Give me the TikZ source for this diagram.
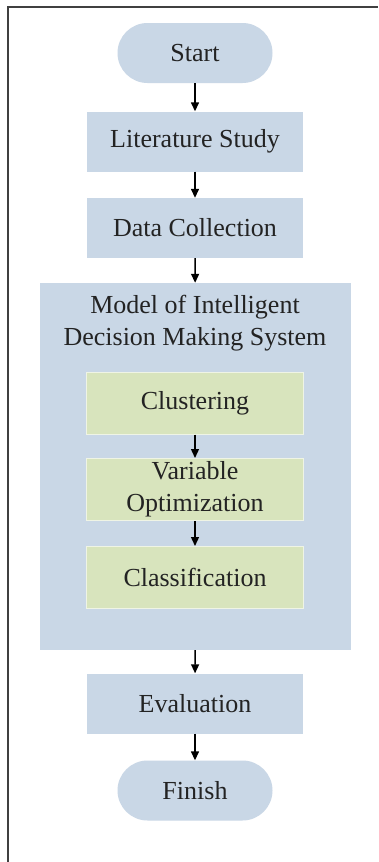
\documentclass[tikz,border=0pt]{standalone}
\usepackage{fontspec}
\setmainfont{Liberation Serif}
\usetikzlibrary{arrows.meta}
\definecolor{boxblue}{RGB}{201,215,230}
\definecolor{boxgreen}{RGB}{216,228,189}
\definecolor{txtgrey}{RGB}{35,35,35}

\begin{document}
\begin{tikzpicture}[x=1pt,y=-1pt,
        txt/.style={font=\fontsize{26}{32}\selectfont, text=txtgrey, align=center, inner sep=0pt},
        pill/.style={txt, fill=boxblue, rounded corners=30pt, minimum width=155pt, minimum height=60pt},
        bluebox/.style={txt, fill=boxblue, minimum width=216pt, minimum height=60pt},
        greenbox/.style={txt, fill=boxgreen, draw=white!60!boxgreen, line width=1pt, minimum width=217pt, minimum height=62pt},
        flow/.style={line width=1.4pt, black, -{Triangle[width=8pt,length=9pt]}}]
                \useasboundingbox (0,0) rectangle (378,862);
                \fill[white] (0,0) rectangle (378,862);
                % frame of the page
                \draw[line width=2pt, black!75] (8,862) -- (8,7) -- (378,7);
                % main flow
                \node[pill] (start) at (195,53) {Start};
                \node[bluebox] (lit) at (195,141.5) {Literature Study};
                \node[bluebox] (data) at (195,228) {Data Collection};
                \node[txt, fill=boxblue, minimum width=311pt, minimum height=367pt] (model) at (195.5,466.5) {};
                \node[txt] (modeltitle) at (195,323) {Model of Intelligent\\Decision Making System};
                \node[greenbox] (clu) at (195,403) {Clustering};
                \node[greenbox] (var) at (195,489.5) {Variable\\Optimization};
                \node[greenbox] (cla) at (195,577.5) {Classification};
                \node[bluebox] (eval) at (195,703.5) {Evaluation};
                \node[pill] (finish) at (195,790.5) {Finish};
                \foreach \a/\b in {start/lit,lit/data,data/model,clu/var,var/cla,model/eval,eval/finish}
                    \draw[flow] (\a) -- (\b);
            \end{tikzpicture}
\end{document}
